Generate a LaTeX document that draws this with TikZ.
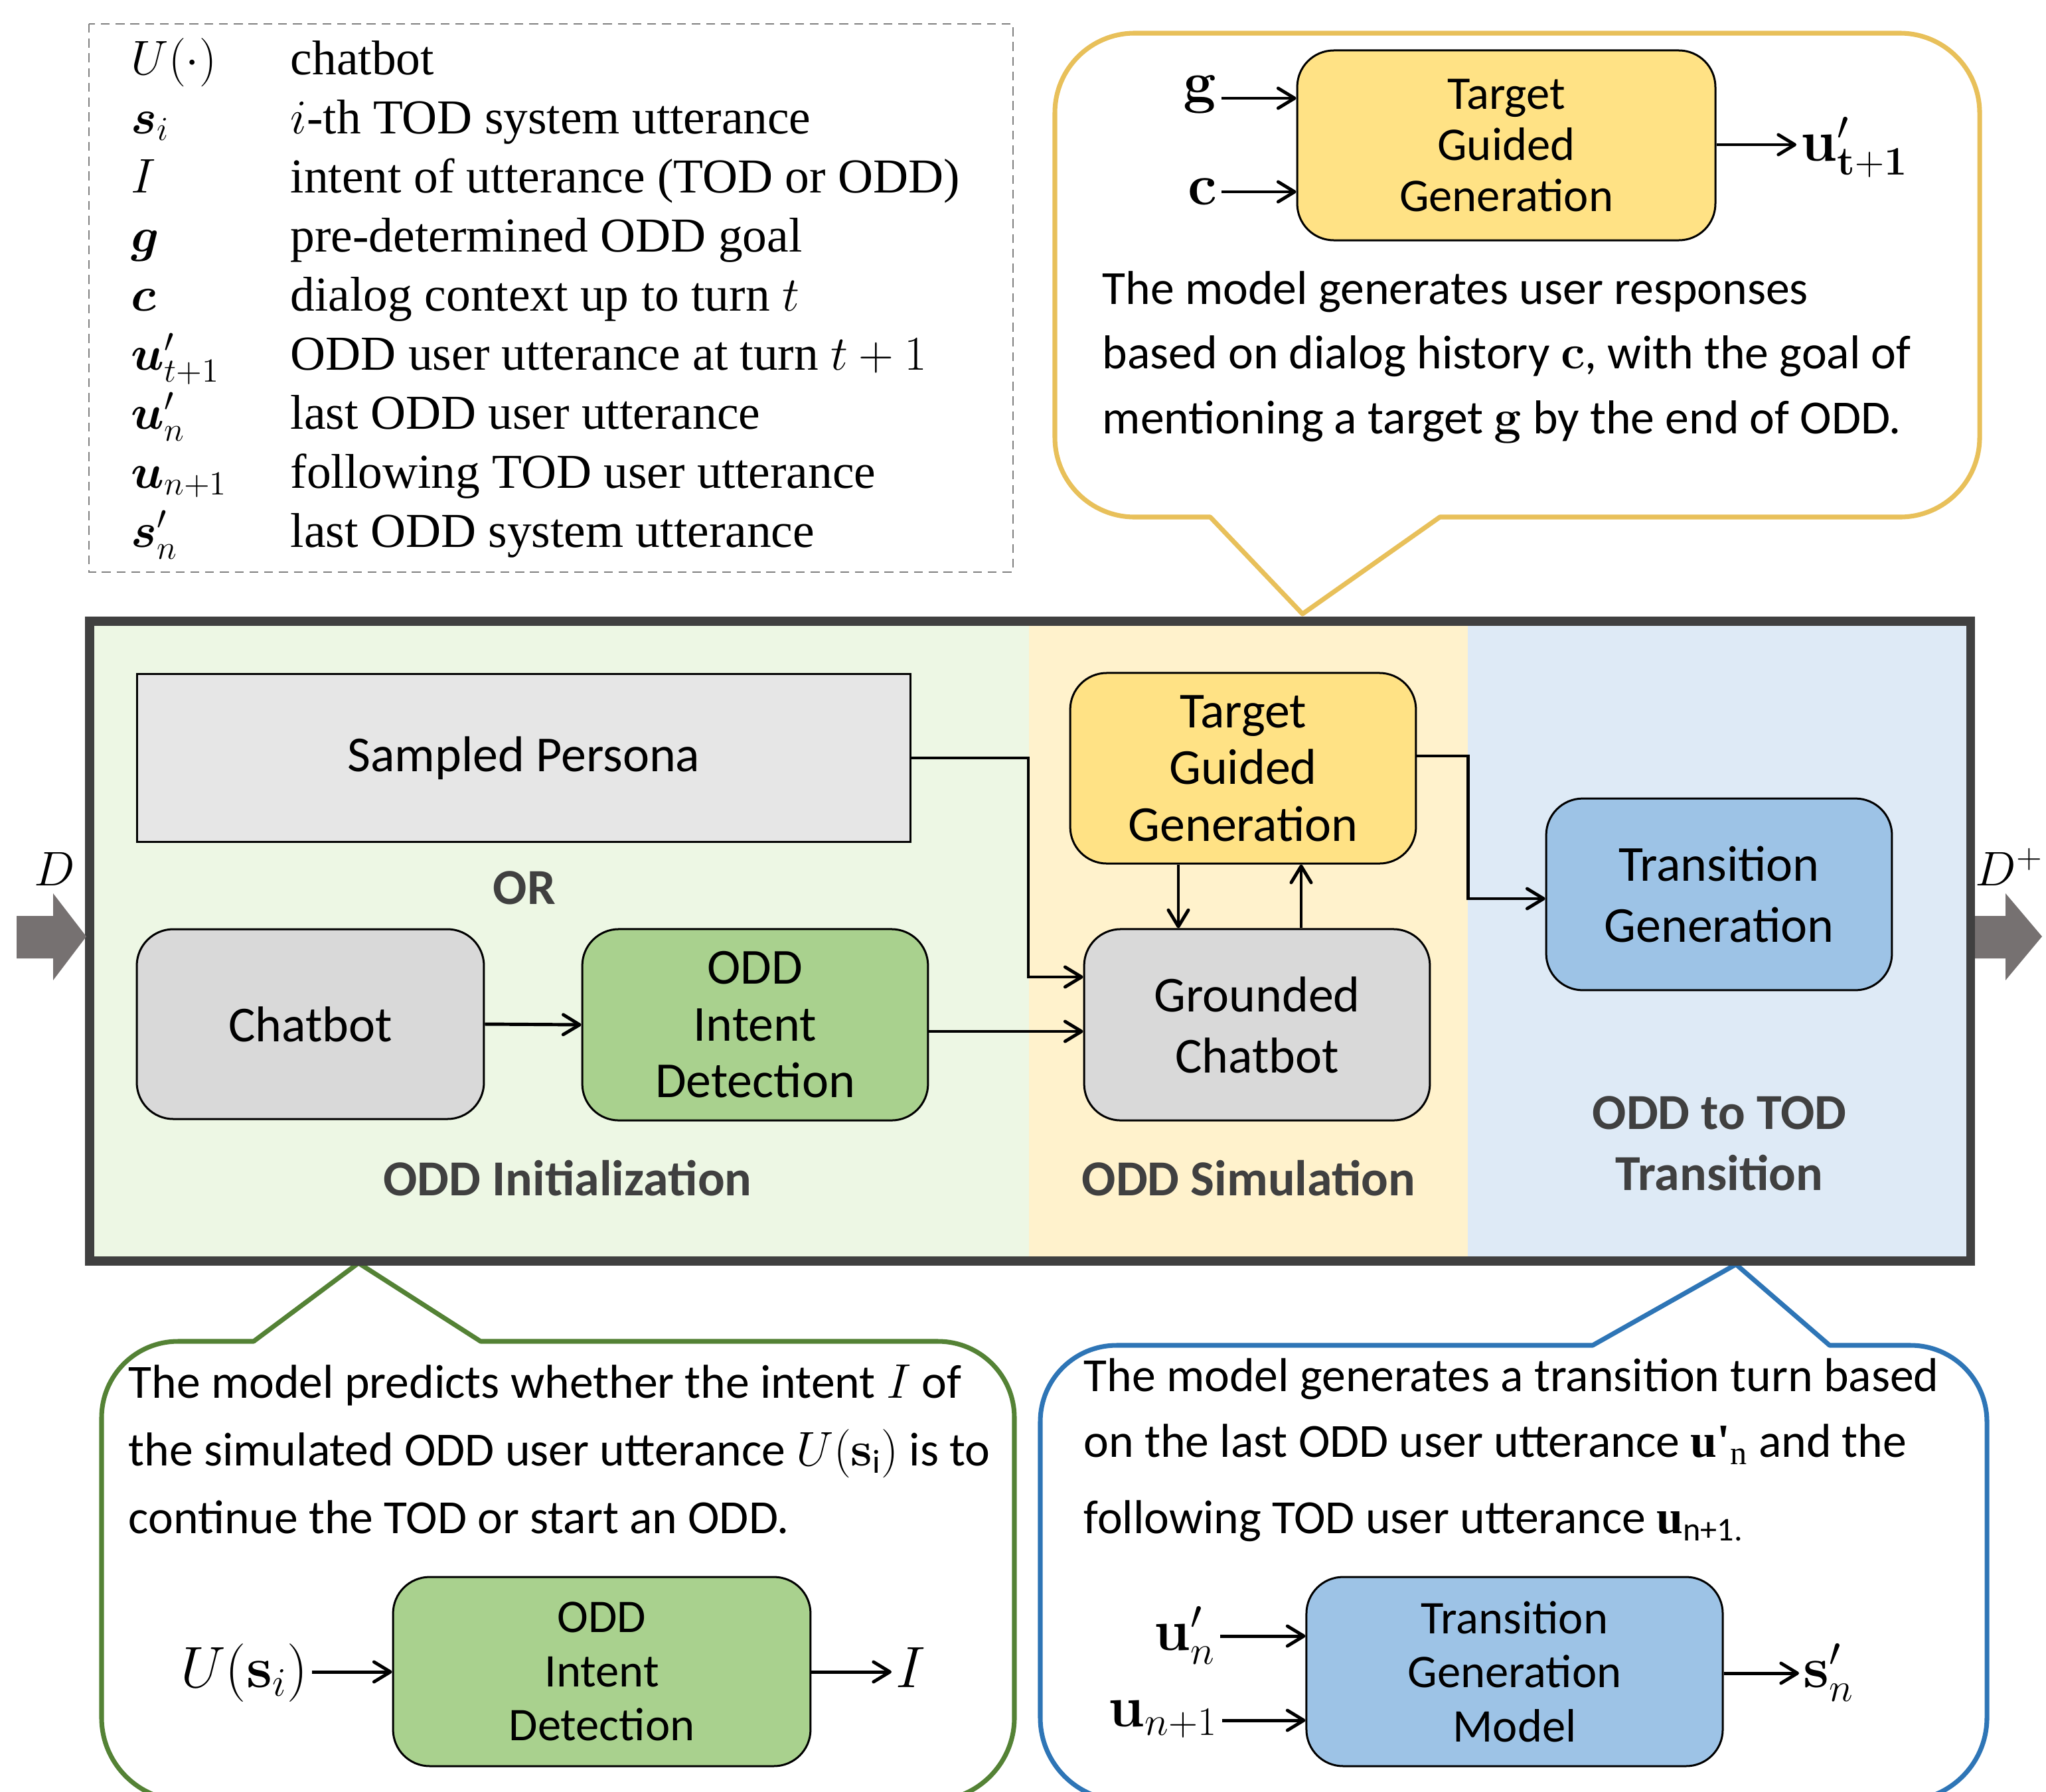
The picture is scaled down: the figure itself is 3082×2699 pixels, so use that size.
\documentclass[tikz,border=0pt]{standalone}
\usepackage{amsmath}
\usepackage{bm}
\usepackage[no-math]{fontspec}
\setmainfont{Carlito}
\newfontfamily\legfont{Liberation Serif}
\usetikzlibrary{arrows.meta,calc}
\definecolor{bgG}{HTML}{EDF7E4}
\definecolor{bgY}{HTML}{FFF2CC}
\definecolor{bgB}{HTML}{DEEAF6}
\definecolor{fY}{HTML}{FFE285}
\definecolor{fG}{HTML}{A9D18E}
\definecolor{fB}{HTML}{9DC3E6}
\definecolor{fGr}{HTML}{D9D9D9}
\definecolor{fSP}{HTML}{E6E6E6}
\definecolor{lblgray}{HTML}{404040}
\definecolor{brd}{HTML}{404040}
\definecolor{bigarr}{HTML}{767171}
\definecolor{cY}{HTML}{E8C05A}
\definecolor{cG}{HTML}{548235}
\definecolor{cB}{HTML}{2E75B6}
\definecolor{legdash}{HTML}{808080}
\newcommand\fsMain{\fontsize{21.5pt}{24.2pt}\selectfont}
\newcommand\fsMainTwo{\fontsize{21.5pt}{26pt}\selectfont}
\newcommand\fsCbox{\fontsize{20pt}{21.8pt}\selectfont}
\newcommand\fsIbox{\fontsize{20pt}{23.1pt}\selectfont}
\newcommand\fsPara{\fontsize{20.3pt}{27.5pt}\selectfont}
\newcommand\fsLeg{\legfont\fontsize{20.8pt}{25pt}\selectfont}
\newcommand\fsMath{\fontsize{25.5pt}{30pt}\selectfont}
\newcommand\fsD{\fontsize{22pt}{26pt}\selectfont}
\begin{document}
\begin{tikzpicture}[x=0.2832pt,y=-0.2832pt,
  rbox/.style={draw=black,line width=0.85pt,rounded corners=15.6pt,align=center,inner sep=0pt},
  sqbox/.style={draw=black,line width=0.85pt,align=center,inner sep=0pt},
  arr/.style={line width=1.4pt,-{Straight Barb[length=7pt,width=8.5pt,round]}},
  lbl/.style={font=\fsMain\bfseries,text=lblgray,align=center,inner sep=0pt},
  leg/.style={anchor=base west,inner sep=0pt,font=\fsLeg},
  para/.style={anchor=base west,inner sep=0pt,font=\fsPara},
  mlab/.style={inner xsep=1.7pt,inner ysep=0pt,font=\fsMath},
  callout/.style={line width=2pt,line join=round,fill=white},
]
\useasboundingbox (0,0) rectangle (3082,2699);
\fill[white] (0,0) rectangle (3082,2699);

% legend
\draw[legdash,dash pattern=on 3.8pt off 2.5pt,line width=0.7pt] (134,36) rectangle (1526,862);
\node[leg] (L1s) at (197,112) {$U(\cdot)$};
\node[leg] (L1d) at (437,112) {chatbot};
\node[leg] (L2s) at (197,201) {$\bm{s}_i$};
\node[leg] (L2d) at (437,201) {$i$-th TOD system utterance};
\node[leg] (L3s) at (197,290) {$I$};
\node[leg] (L3d) at (437,290) {intent of utterance (TOD or ODD)};
\node[leg] (L4s) at (197,379) {$\bm{g}$};
\node[leg] (L4d) at (437,379) {pre-determined ODD goal};
\node[leg] (L5s) at (197,468) {$\bm{c}$};
\node[leg] (L5d) at (437,468) {dialog context up to turn $t$};
\node[leg] (L6s) at (197,557) {$\bm{u}'_{t+1}$};
\node[leg] (L6d) at (437,557) {ODD user utterance at turn $t+1$};
\node[leg] (L7s) at (197,646) {$\bm{u}'_n$};
\node[leg] (L7d) at (437,646) {last ODD user utterance};
\node[leg] (L8s) at (197,735) {$\bm{u}_{n+1}$};
\node[leg] (L8d) at (437,735) {following TOD user utterance};
\node[leg] (L9s) at (197,824) {$\bm{s}'_n$};
\node[leg] (L9d) at (437,824) {last ODD system utterance};

% callouts
\draw[callout,draw=cY] (1823,779) -- (1709,779) arc[start angle=90,end angle=180,radius=120]
  -- (1589,170) arc[start angle=180,end angle=270,radius=120]
  -- (2862,50) arc[start angle=270,end angle=360,radius=120]
  -- (2982,659) arc[start angle=0,end angle=90,radius=120]
  -- (2169,779) -- (1962,925) -- cycle;
\draw[callout,draw=cG] (382,2021) -- (268,2021) arc[start angle=270,end angle=180,radius=115]
  -- (153,2588) arc[start angle=180,end angle=90,radius=125]
  -- (1403,2713) arc[start angle=90,end angle=0,radius=125]
  -- (1528,2136) arc[start angle=360,end angle=270,radius=115]
  -- (724,2021) -- (540,1903) -- cycle;
\draw[callout,draw=cB] (2399,2027) -- (1682,2027) arc[start angle=270,end angle=180,radius=115]
  -- (1567,2588) arc[start angle=180,end angle=90,radius=125]
  -- (2868,2713) arc[start angle=90,end angle=0,radius=125]
  -- (2993,2142) arc[start angle=360,end angle=270,radius=115]
  -- (2756,2027) -- (2615,1905) -- cycle;

% main panel
\fill[bgG] (135,936) rectangle (1550,1900);
\fill[bgY] (1550,936) rectangle (2211,1900);
\fill[bgB] (2211,936) rectangle (2968,1900);
\draw[brd,line width=3.7pt] (135,936) rectangle (2968,1900);

\fill[bigarr] (25,1380) -- (80,1380) -- (80,1346) -- (130,1411) -- (80,1477) -- (80,1444) -- (25,1444) -- cycle;
\fill[bigarr] (2975,1380) -- (3021,1380) -- (3021,1346) -- (3076,1411) -- (3021,1477) -- (3021,1444) -- (2975,1444) -- cycle;
\node[anchor=base west,inner sep=0pt,font=\fsD] (Dl) at (51,1334) {$D$};
\node[anchor=base west,inner sep=0pt,font=\fsD] (Dr) at (2975,1334) {$D^+$};

\node[sqbox,fill=fSP,minimum width=330.2pt,minimum height=71.4pt,font=\fsMain] (SP) at (789,1142) {Sampled Persona};
\node[rbox,fill=fGr,minimum width=148.1pt,minimum height=81pt,font=\fsMain] (CB) at (467.5,1543) {Chatbot};
\node[rbox,fill=fG,minimum width=147.5pt,minimum height=81.6pt,font=\fsMain] (OID) at (1137.5,1544) {ODD\\Intent\\Detection};
\node[rbox,fill=fY,minimum width=147.5pt,minimum height=81.3pt,font=\fsMain] (TGG) at (1872.5,1157.5) {Target\\Guided\\Generation};
\node[rbox,fill=fGr,minimum width=147.5pt,minimum height=81.6pt,font=\fsMainTwo] (GC) at (1893.5,1544) {Grounded\\Chatbot};
\node[rbox,fill=fB,minimum width=147.5pt,minimum height=81.8pt,font=\fsMainTwo] (TG) at (2589.5,1347.5) {Transition\\Generation};

\node[lbl] (OR) at (790,1338) {OR};
\node[lbl] (Init) at (855,1775) {ODD Initialization};
\node[lbl] (Sim) at (1881,1775) {ODD Simulation};
\node[lbl,font=\fsMainTwo\bfseries] (Trans) at (2590,1723) {ODD to TOD\\Transition};

\draw[arr] (CB.east) -- (OID.west);
\draw[arr] (SP.east) -- (SP.east -| 1549,0) |- (GC.west |- 0,1472);
\draw[arr] (OID.east |- 0,1554) -- (GC.west |- 0,1554);
\draw[arr] (TGG.south -| 1775,0) -- (GC.north -| 1775,0);
\draw[arr] (GC.north -| 1960,0) -- (TGG.south -| 1960,0);
\draw[arr] (TGG.east |- 0,1139) -- (2211,1139) |- (TG.west |- 0,1354);

% top callout content
\node[rbox,fill=fY,minimum width=178.4pt,minimum height=81pt,font=\fsCbox] (TGG2) at (2269,219) {Target\\Guided\\Generation};
\node[mlab,anchor=base east] (gl) at (1840,153) {$\mathbf{g}$};
\node[mlab,anchor=base east] (cl) at (1840,308) {$\mathbf{c}$};
\node[mlab,anchor=base west] (ul) at (2706,242) {$\mathbf{u}'_{\mathbf{t+1}}$};
\draw[arr] (gl.east |- 0,148) -- (TGG2.west |- 0,148);
\draw[arr] (cl.east |- 0,289) -- (TGG2.west |- 0,289);
\draw[arr] (TGG2.east |- 0,218) -- (ul.west |- 0,218);
\node[para] (T1) at (1660,458) {The model generates user responses};
\node[para] (T2) at (1660,555) {based on dialog history $\mathbf{c}$, with the goal of};
\node[para] (T3) at (1660,653) {mentioning a target $\mathbf{g}$ by the end of ODD.};

% bottom-left callout content
\node[para] (B1) at (193,2106) {The model predicts whether the intent $I$ of};
\node[para] (B2) at (193,2208) {the simulated ODD user utterance $U(\mathbf{s}_{\text{i}})$ is to};
\node[para] (B3) at (193,2310) {continue the TOD or start an ODD.};
\node[rbox,fill=fG,minimum width=178.1pt,minimum height=80.7pt,font=\fsIbox] (OID2) at (906.5,2518.5) {ODD\\Intent\\Detection};
\node[mlab,anchor=base east] (Us) at (470,2542) {$U(\mathbf{s}_i)$};
\node[mlab,anchor=base west] (Il) at (1343,2542) {$I$};
\draw[arr] (Us.east |- 0,2519) -- (OID2.west |- 0,2519);
\draw[arr] (OID2.east |- 0,2519) -- (Il.west |- 0,2519);

% bottom-right callout content
\node[para] (R1) at (1632,2096) {The model generates a transition turn based};
\node[para] (R2) at (1632,2195) {on the last ODD user utterance {\legfont\bfseries u\textquotesingle}$_{\text{\legfont n}}$ and the};
\node[para] (R3) at (1632,2310) {following TOD user utterance {\legfont\bfseries u}$_{\text{n+1.}}$};
\node[rbox,fill=fB,minimum width=177.6pt,minimum height=80.7pt,font=\fsIbox] (TGM) at (2281.5,2518.5) {Transition\\Generation\\Model};
\node[mlab,anchor=base west] (unl) at (1732,2486) {$\mathbf{u}'_n$};
\node[mlab,anchor=base west] (un1l) at (1663,2601) {$\mathbf{u}_{n+1}$};
\node[mlab,anchor=base west] (snl) at (2710,2542) {$\mathbf{s}'_n$};
\draw[arr] (unl.east |- 0,2465) -- (TGM.west |- 0,2465);
\draw[arr] (un1l.east |- 0,2592) -- (TGM.west |- 0,2592);
\draw[arr] (TGM.east |- 0,2521) -- (snl.west |- 0,2521);
\end{tikzpicture}
\end{document}
